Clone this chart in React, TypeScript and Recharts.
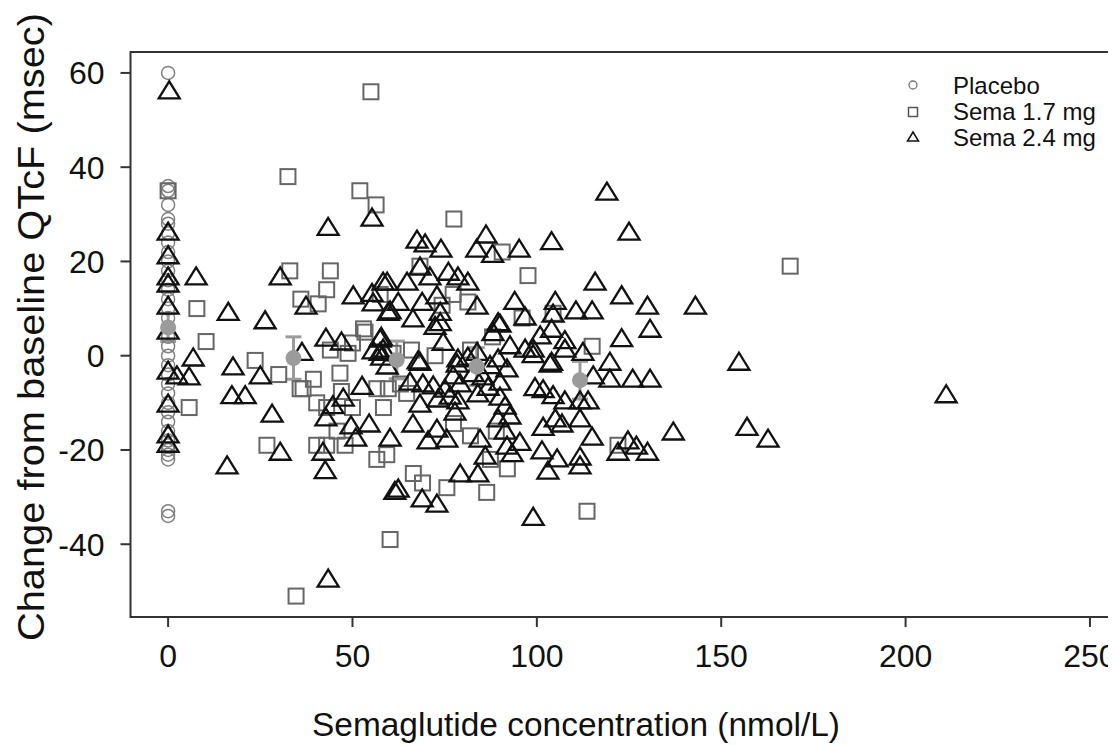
import React from 'react';
import { ScatterChart, Scatter, XAxis, YAxis, ReferenceArea, ErrorBar, Legend, Label } from 'recharts';

// concentration (nmol/L), change in QTcF (msec)
const placeboY = [60, 36, 35, 32, 29, 28, 26, 24, 22, 20, 18, 16, 14, 12, 10, 8, 6, 4, 2, 0, -2, -4, -6, -8, -10, -12, -14, -16, -18, -19, -20, -21, -22, -33, -34];

const sema17 = [
  [0, 35], [55, 56], [32.5, 38], [52, 35], [56.4, 32], [33, 18], [44, 18], [43, 14], [36, 12], [40.7, 11], [7.8, 10], [57.5, 13],
  [53, 5.7], [10.3, 3], [23.6, -1], [30, -4], [5.7, -11], [26.8, -19], [36.6, -7], [39.4, -5], [40.3, -10], [43, -11], [46.6, -3.7],
  [47, -7.6], [50, -11], [56.6, -7], [58.4, -11], [53.4, 5], [45.8, -16], [40.3, -19], [43, -19], [48, -19], [56.6, -22], [59.3, -21],
  [60.2, -39], [34.7, -51], [48.8, 0.5], [50, 2.7], [44, 1.2], [61, 0.5], [35.8, -7], [77.5, 29], [97.6, 17], [68.3, 19], [90.6, 22],
  [115, 2], [96, 8], [88, 4], [74.3, 10.7], [81.3, 11.4], [77.3, 13], [66, 1.2], [72.4, 0], [82, 1.2], [104.4, 9], [59.7, -7], [63, -6],
  [64.7, -8], [77.4, -14.4], [82, -17], [66.5, -25], [69, -27], [75.6, -28], [86.4, -29], [92, -24], [87.4, -22], [89, -16],
  [113.6, -33], [122, -19], [168.7, 19],
];

const sema24 = [
  [0.3, 56], [0, 26], [0, 21], [0, 16.5], [0, 15], [0, 10.3], [0, 5], [0, -3.5], [0, -10.5], [0, -17], [0, -19],
  [43.4, 27], [55.3, 29], [7.6, 16.5], [30.4, 16.5], [58.3, 15.4], [50.2, 12.5], [55.3, 13], [55.6, 11], [60.2, 9.3], [37.4, 10.3],
  [16.3, 9], [26.3, 7.2], [42.8, 3.5], [47, 2.7], [57.8, 3.7], [55.6, 0.8], [36.3, 0.5], [6.8, -0.7], [2.4, -4.5], [5.7, -4.7],
  [17.6, -2.6], [25, -4.5], [17.3, -8.7], [20.9, -8.7], [28.2, -12.6], [42.8, -13.4], [44.7, -10.8], [47.5, -9.2], [52.6, -6.7],
  [54.5, -14.7], [49.6, -15.1], [50.9, -17.7], [60.2, -17.7], [30.4, -20.7], [42, -20.7], [42.6, -24.6], [16, -23.6], [61.5, -29],
  [43.4, -47.6], [59.4, -2.4], [119, 34.5], [125, 26], [104, 24], [86.2, 25.4], [83.7, 22.4], [88, 21.3], [95.2, 22.4], [67.5, 24.3],
  [69.7, 23.5], [74, 22.4], [115.8, 15.4], [123, 12.5], [130, 10.3], [143, 10.3], [130.7, 5.4], [123, 3.4], [119.8, -1.6],
  [154.8, -1.6], [94, 11.3], [105, 11.3], [110.6, 9.3], [115, 9.3], [96.8, 8], [104.4, 8.6], [104, 5.4], [89.5, 6.8], [100.9, 4],
  [107.6, 3], [59.4, 15.4], [64.8, 15.4], [71, 16.5], [76, 17.5], [78.6, 16.5], [81.3, 15.4], [83.8, 10.3], [68.3, 18.6],
  [72.9, 12.5], [68.9, 11.1], [62.4, 11.1], [59.7, 9], [66.4, 7.6], [73.8, 9], [73.8, 6.8], [72.4, 6], [74.6, 2.6], [78.6, -0.9],
  [83.8, 0.5], [88.1, 4.7], [92.7, 1.9], [99, 1.2], [104, -1.6], [107.6, 1.2], [112.5, 0.5], [115.3, -4.5], [119.8, -5.2],
  [126, -5.2], [130.7, -5.2], [68.3, -1.6], [57.5, 0.5], [137, -16.4], [157, -15.4], [162.7, -17.9], [211, -8.5],
  [99.5, -7], [101.7, -7.4], [104.4, -8.7], [107.6, -9.8], [111.7, -9.8], [113.9, -9.8], [111.7, -13.6], [105, -13.6],
  [106.8, -14.7], [101.7, -15.4], [115, -17.5], [101.4, -20.4], [105.5, -22.1], [111.7, -21.7], [111.7, -23.6], [103, -24.7],
  [99, -34.5], [122, -20.7], [124.7, -18.3], [127, -19.4], [130, -20.7], [90, 6.5], [99, 0], [96.8, 1.2], [103.6, -2], [91.9, -3],
  [90, -5.8], [90, -9], [91.4, -10.9], [92.7, -13], [89.5, -13.6], [91.4, -16.2], [95.4, -18.6], [93.3, -21], [91.9, -19.4],
  [79.2, -6.2], [82.7, -4], [85.4, -4.7], [86.8, -6.9], [84, -8.3], [78.6, -9.8], [77.8, -12.2], [84.6, -17.9], [86, -21.5],
  [84, -25.3], [79.2, -25.3], [75.6, -17.9], [72.9, -15.8], [70.5, -18.3], [66.4, -14.7], [62.4, -28.5], [68.9, -30.6],
  [72.9, -31.7], [68.3, -10.5], [73.2, -9.4], [76.5, -8.8], [75.1, -7.3], [77.3, -4.5], [69.1, -6.2], [65.6, -5.8], [71.9, -6.6],
  [67.8, -1.3], [57.5, 3.3], [58.3, 1.2], [57.9, -0.5], [78.4, -2], [81.3, -0.5], [87.3, -2.3], [89.5, -0.9],
];

// binned means with error
const means = [[0, 6, 3], [34, -0.5, 4.5], [62, -0.9, 4], [83.7, -2.3, 4], [111.7, -5.2, 4]];

const xTicks = [0, 50, 100, 150, 200, 250];
const yTicks = [-40, -20, 0, 20, 40, 60];

const font = '"Liberation Sans", Arial, sans-serif';

const placeboData = placeboY.map((y) => ({ x: 0, y }));
const sema17Data = sema17.map(([x, y]) => ({ x, y }));
const sema24Data = sema24.map(([x, y]) => ({ x, y }));
const meanData = means.map(([x, y, err]) => ({ x, y, err }));

const Circle = (p: any) => <circle cx={p.cx} cy={p.cy} r={6.5} fill="none" stroke="#808080" strokeWidth={1.5} />;
const Square = (p: any) => <rect x={p.cx - 7.5} y={p.cy - 7.5} width={15} height={15} fill="none" stroke="#666" strokeWidth={2} />;
const Triangle = (p: any) => (
  <polygon points={`${p.cx},${p.cy - 10.5} ${p.cx - 10.5},${p.cy + 6.5} ${p.cx + 10.5},${p.cy + 6.5}`} fill="none" stroke="#111" strokeWidth={2.3} />
);
const MeanDot = (p: any) => <circle cx={p.cx} cy={p.cy} r={8} fill="#9b9b9b" />;

const LegendBox = () => (
  <svg width={230} height={90} style={{ fontFamily: font }}>
    <circle cx={20} cy={13} r={4} fill="none" stroke="#777" strokeWidth={1.3} />
    <rect x={15.5} y={35.5} width={9} height={9} fill="none" stroke="#555" strokeWidth={1.5} />
    <polygon points="20,60 14.5,69 25.5,69" fill="none" stroke="#111" strokeWidth={1.5} />
    <text x={60} y={22} fontSize={24} fill="#111">Placebo</text>
    <text x={60} y={48} fontSize={24} fill="#111">Sema 1.7 mg</text>
    <text x={60} y={74} fontSize={24} fill="#111">Sema 2.4 mg</text>
  </svg>
);

export default function App() {
  return (
    <div style={{ width: 1108, height: 737, overflow: 'hidden', background: '#fff' }}>
      <ScatterChart width={1140} height={745} margin={{ top: 44, right: 2, left: 0, bottom: 0 }}>
        <XAxis
          type="number"
          dataKey="x"
          domain={[-10.2, 265.2]}
          allowDataOverflow
          ticks={xTicks}
          interval={0}
          height={136}
          axisLine={false}
          tickSize={10}
          tickMargin={17}
          tickLine={{ stroke: '#333', strokeWidth: 2 }}
          tick={{ fontSize: 32, fill: '#111', fontFamily: font }}
        >
          <Label
            content={() => (
              <text x={304} y={728} fontSize={34} fill="#111" fontFamily={font} textLength={528} lengthAdjust="spacingAndGlyphs">
                Semaglutide concentration (nmol/L)
              </text>
            )}
          />
        </XAxis>
        <YAxis
          type="number"
          dataKey="y"
          domain={[-55.44, 64.44]}
          allowDataOverflow
          ticks={yTicks}
          interval={0}
          width={122.5}
          axisLine={false}
          tickSize={10}
          tickMargin={16}
          tickLine={{ stroke: '#333', strokeWidth: 2 }}
          tick={{ fontSize: 32, fill: '#111', fontFamily: font }}
        >
          <Label
            content={() => (
              <text
                transform="rotate(-90)"
                x={-319}
                y={36}
                textAnchor="middle"
                fontSize={37}
                fill="#111"
                fontFamily={font}
                textLength={628}
                lengthAdjust="spacingAndGlyphs"
              >
                Change from baseline QTcF (msec)
              </text>
            )}
          />
        </YAxis>
        <ReferenceArea x1={-10.2} x2={265.2} y1={-55.44} y2={64.44} fill="none" stroke="#333" strokeWidth={2} ifOverflow="visible" />
        <Scatter name="Placebo" data={placeboData} shape={Circle} isAnimationActive={false} />
        <Scatter name="Sema 1.7 mg" data={sema17Data} shape={Square} isAnimationActive={false} />
        <Scatter name="Sema 2.4 mg" data={sema24Data} shape={Triangle} isAnimationActive={false} />
        <Scatter name="Mean" data={meanData} shape={MeanDot} isAnimationActive={false} legendType="none">
          <ErrorBar dataKey="err" direction="y" width={8} stroke="#9b9b9b" strokeWidth={3} />
        </Scatter>
        <Legend
          layout="vertical"
          align="center"
          verticalAlign="middle"
          content={LegendBox}
          wrapperStyle={{ position: 'absolute', left: 885, top: 64, width: 230 }}
        />
      </ScatterChart>
    </div>
  );
}
